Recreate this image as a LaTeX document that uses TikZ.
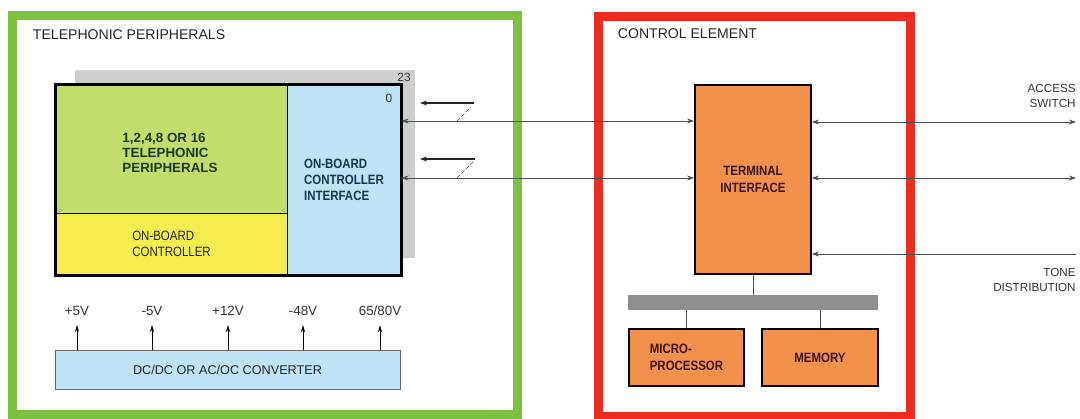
\documentclass[tikz,border=0pt]{standalone}
\usepackage{fontspec}
\setmainfont{Liberation Sans}
\newfontfamily\condfont[FakeStretch=0.85]{Liberation Sans}
\usetikzlibrary{arrows.meta,positioning}
\definecolor{FrameGreen}{HTML}{7DC142}
\definecolor{FrameRed}  {HTML}{EE2B1F}
\definecolor{LimeFill}  {HTML}{C3DD6C}
\definecolor{LemonFill} {HTML}{F3EC4C}
\definecolor{SkyFill}   {HTML}{BEE3F4}
\definecolor{OrangeFill}{HTML}{F1914B}
\definecolor{ShadowGray}{HTML}{CDCFCE}
\definecolor{BusGray}   {HTML}{8E8F8F}
\definecolor{InkGray}   {HTML}{4A4F50}
\definecolor{LimeInk}   {HTML}{1E3A1A}
\definecolor{SkyInk}    {HTML}{163846}
\definecolor{OrangeInk} {HTML}{3A1408}
\tikzset{
  outerframe/.style={rectangle,draw=#1,line width=0.225cm,fill=white},
  headtxt/.style={anchor=west,font=\fontsize{10}{12}\selectfont,text=black!85},
  blk/.style={rectangle,draw=black,line width=0.6pt,fill=#1,inner sep=0pt,
              font=\condfont\fontsize{9.6}{11.6}\selectfont\bfseries},
  lbl/.style={font=\fontsize{8.5}{11.3}\selectfont,text=black!80,inner sep=1.5pt},
  link/.style={{Stealth[length=5pt,width=3.5pt]}-{Stealth[length=5pt,width=3.5pt]},
               line width=0.6pt,draw=InkGray},
  inarr/.style={-{Stealth[length=5pt,width=3.5pt]},line width=0.6pt,draw=InkGray},
  stub/.style={-{Stealth[length=5pt,width=3.5pt]},line width=0.8pt,draw=black!85},
  slash/.style={dashed,dash pattern=on 3pt off 1.5pt,line width=0.5pt,draw=InkGray},
  pwr/.style={-{Stealth[length=5pt,width=3pt]},line width=0.6pt,draw=black,shorten >=5pt},
  busline/.style={line width=0.6pt,draw=InkGray},
}

\begin{document}
\begin{tikzpicture}[x=0.025cm,y=-0.025cm]
  \useasboundingbox (0,0) rectangle (1080,419);

  % frames
  \node[outerframe=FrameGreen,minimum width=12.625cm,minimum height=9.975cm]
    (periph) at (265,215) {};
  \node[outerframe=FrameRed,minimum width=7.8cm,minimum height=9.9875cm]
    (ctrl) at (754.5,216.25) {};
  \node[headtxt] (periphttl) at (28,35) {TELEPHONIC PERIPHERALS};
  \node[headtxt] (ctrlttl)   at (613,34) {CONTROL ELEMENT};

  % stacked boards
  \fill[ShadowGray] (75,70) rectangle (415,258);
  \node[lbl] (n23) at (404,77) {23};
  \node[blk=LimeFill,minimum width=5.775cm,minimum height=3.2cm] (tp) at (171.5,149) {};
  \node[text=LimeInk,align=left,inner sep=0pt,
        font=\fontsize{9.5}{10.4}\selectfont\bfseries] (tptxt) at (170,153)
    {1,2,4,8 OR 16\\TELEPHONIC\\PERIPHERALS};
  \node[blk=LemonFill,minimum width=5.775cm,minimum height=1.55cm,text=black!85,
        align=left,font=\condfont\fontsize{9.6}{11.6}\selectfont] (obc) at (171.5,244)
    {ON-BOARD\\CONTROLLER};
  \node[blk=SkyFill,minimum width=2.85cm,minimum height=4.75cm,text=SkyInk,
        align=left] (ifc) at (344,180)
    {ON-BOARD\\CONTROLLER\\INTERFACE};
  \draw[line width=1.6pt] (tp.north west) rectangle (ifc.south east);
  \node[lbl] (n0) at (389,98) {0};

  % power converter
  \node[blk=SkyFill,minimum width=8.625cm,minimum height=0.975cm,line width=0.4pt,
        draw=black!60,font=\fontsize{9}{11}\selectfont,text=black!85] (conv) at (227.5,369.5)
    {DC/DC OR AC/OC CONVERTER};
  \foreach \vx/\vtxt [count=\i] in {77/+5V,152/-5V,228/+12V,303/-48V,380/{65/80V}}{
    \node[lbl,font=\fontsize{9.5}{11.3}\selectfont] (v\i) at (\vx,311) {\vtxt};
    \draw[pwr] (conv.north -| v\i) -- (v\i.south);
  }

  % control element
  \node[blk=OrangeFill,minimum width=2.9cm,minimum height=4.725cm,line width=1.2pt,
        text=OrangeInk,align=center] (term) at (753,179.5)
    {TERMINAL\\INTERFACE};
  \node[rectangle,fill=BusGray,minimum width=6.25cm,minimum height=0.375cm,
        inner sep=0pt] (bus) at (753,302.5) {};
  \node[blk=OrangeFill,minimum width=2.875cm,minimum height=1.425cm,line width=1.2pt,
        text=OrangeInk,align=left] (micro) at (686.5,357.5)
    {MICRO-\\PROCESSOR};
  \node[blk=OrangeFill,minimum width=2.9cm,minimum height=1.425cm,line width=1.2pt,
        text=OrangeInk] (mem) at (820,357.5) {MEMORY};
  \draw[busline] (term.south) -- (bus.north);
  \draw[busline] (bus.south -| micro.north) -- (micro.north);
  \draw[busline] (bus.south -| mem.north) -- (mem.north);

  % links between boards and terminal interface
  \coordinate (r1) at (0,121);
  \coordinate (r2) at (0,178);
  \draw[link] (ifc.east |- r1) -- (term.west |- r1);
  \draw[link] (ifc.east |- r2) -- (term.west |- r2);
  \coordinate (sw1a) at (474,103);
  \coordinate (sw1b) at (420,103);
  \coordinate (sw2a) at (475,159);
  \coordinate (sw2b) at (420,159);
  \draw[stub] (sw1a) -- (sw1b);
  \draw[stub] (sw2a) -- (sw2b);
  \draw[slash] (457,121) -- (471,107);
  \draw[slash] (457,178) -- (473,162);

  % outside connections
  \coordinate (as1) at (1076,122);
  \coordinate (as2) at (1076,178);
  \coordinate (tone) at (1076,254);
  \draw[link] (term.east |- as1) -- (as1);
  \draw[link] (term.east |- as2) -- (as2);
  \draw[inarr] (tone) -- (term.east |- tone);
  \node[lbl,anchor=east,align=right,font=\fontsize{8.3}{11.3}\selectfont]
    (acc) at (1078,96) {ACCESS\\SWITCH};
  \node[lbl,anchor=east,align=right,font=\fontsize{8.3}{11.3}\selectfont]
    (tonetxt) at (1078,280) {TONE\\DISTRIBUTION};

\end{tikzpicture}
\end{document}
